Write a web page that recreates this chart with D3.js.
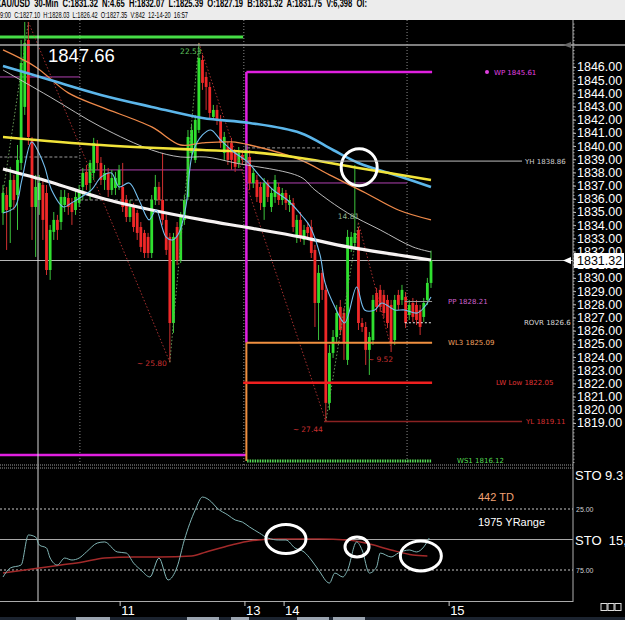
<!DOCTYPE html>
<html><head><meta charset="utf-8">
<script src="https://cdn.jsdelivr.net/npm/d3@7"></script>
<style>html,body{margin:0;padding:0;background:#000;overflow:hidden}</style>
</head><body><svg id="c" width="625" height="620"></svg>
<script>
// ---------------- DATA ----------------
const header1 = "XAU/USD  30-Min  C:1831.32  N:4.65  H:1832.07  L:1825.39  O:1827.19  B:1831.32  A:1831.75  V:6,398  OI:";
const header2 = "9:00  C:1827.10  H:1828.03  L:1826.42  O:1827.35  V:842  12-14-20  16:57";

const open = [1834.93,1836.29,1835.38,1837.43,1836.29,1838.72,1842.97,1848.05,1840.46,1835.38,
1835.91,1837.05,1836.44,1830.60,1833.49,1834.40,1834.24,1835.53,1836.06,1835.69,
1835.15,1835.69,1836.90,1838.04,1837.20,1837.96,1840.08,1838.72,1837.43,1837.96,
1836.67,1836.82,1837.05,1836.90,1835.91,1834.62,1835.38,1834.93,1833.86,1833.41,
1833.11,1831.89,1835.91,1836.90,1835.91,1834.40,1833.11,1826.58,1833.86,1831.36,
1834.40,1836.14,1839.48,1838.95,1841.22,1846.53,1845.24,1844.48,1842.21,1842.74,
1841.98,1839.48,1839.93,1840.24,1839.48,1838.72,1839.33,1838.95,1839.17,1837.20,
1837.43,1836.90,1835.38,1837.20,1835.38,1836.14,1836.90,1835.91,1836.44,1835.53,
1835.69,1833.11,1834.40,1832.88,1833.86,1833.86,1832.12,1828.10,1830.38,1829.09,
1820.52,1824.31,1825.52,1827.80,1827.34,1823.78,1832.35,1832.65,1833.64,1826.58,
1826.28,1824.54,1825.29,1828.86,1829.09,1828.71,1828.33,1827.95,1825.29,1828.71,
1828.33,1828.56,1827.19,1828.10,1827.95,1827.57,1827.04,1828.33,1829.62];
const high = [1837.05,1836.90,1838.42,1837.81,1840.08,1848.05,1849.41,1849.41,1840.69,1837.81,
1837.81,1837.43,1837.05,1834.02,1835.00,1834.78,1836.67,1836.67,1836.44,1836.06,
1836.67,1837.05,1838.34,1838.57,1838.95,1840.62,1840.46,1839.17,1838.57,1838.34,
1838.19,1838.04,1838.57,1838.72,1836.29,1835.91,1835.69,1835.15,1834.24,1833.64,
1833.41,1836.29,1837.81,1837.28,1839.48,1834.78,1833.41,1833.41,1834.24,1835.00,
1836.29,1841.22,1841.60,1842.36,1847.82,1846.91,1845.62,1844.86,1843.12,1843.12,
1842.36,1841.07,1840.31,1840.62,1839.70,1839.93,1839.70,1840.08,1839.70,1838.34,
1837.81,1837.28,1837.58,1837.43,1836.82,1837.81,1837.20,1836.82,1836.67,1836.29,
1836.06,1834.78,1835.00,1834.02,1834.24,1834.40,1832.50,1830.98,1830.60,1829.47,
1824.92,1826.05,1827.95,1828.33,1827.72,1833.64,1833.49,1838.57,1833.86,1826.96,
1826.66,1825.90,1828.71,1829.24,1829.47,1829.09,1828.71,1828.33,1828.71,1829.09,
1829.47,1828.93,1828.33,1828.48,1828.33,1827.95,1828.48,1830.00,1832.07];
const low = [1834.02,1832.12,1832.65,1835.15,1833.64,1838.19,1842.36,1840.08,1832.88,1831.59,
1834.78,1832.88,1830.22,1829.85,1832.88,1832.88,1833.64,1835.00,1834.78,1834.02,
1834.78,1835.38,1835.91,1836.67,1835.91,1837.43,1838.19,1837.05,1836.67,1836.14,
1836.29,1836.29,1836.67,1835.00,1834.24,1834.24,1833.49,1832.88,1831.97,1831.51,
1831.51,1831.51,1835.53,1835.53,1834.02,1831.74,1823.61,1825.83,1830.98,1831.13,
1834.02,1835.91,1839.10,1838.72,1840.99,1844.26,1842.74,1842.13,1841.98,1841.60,
1839.86,1838.95,1838.57,1838.19,1838.04,1838.34,1838.57,1838.57,1836.67,1836.82,
1835.76,1835.15,1834.40,1835.76,1835.00,1835.69,1835.53,1835.53,1835.15,1835.00,
1833.49,1832.65,1832.73,1832.50,1832.88,1831.51,1826.28,1825.29,1828.33,1819.11,
1819.99,1823.93,1825.14,1825.67,1823.78,1823.40,1831.97,1832.27,1826.05,1825.90,
1823.40,1822.64,1824.92,1827.42,1827.42,1826.96,1826.20,1824.38,1824.92,1827.57,
1827.95,1826.20,1826.81,1826.66,1826.43,1825.67,1826.66,1827.95,1829.24];
const close = [1836.44,1835.15,1837.43,1835.91,1838.95,1846.30,1847.82,1840.69,1835.38,1836.90,
1837.20,1834.40,1830.60,1833.64,1834.40,1833.64,1836.14,1836.14,1835.38,1835.00,
1836.14,1836.67,1837.96,1837.05,1838.72,1840.24,1838.72,1837.43,1837.96,1836.67,
1837.58,1837.58,1838.19,1835.38,1834.62,1835.38,1833.86,1833.41,1832.35,1831.89,
1831.89,1835.91,1836.90,1835.91,1834.40,1832.12,1826.58,1833.11,1831.36,1834.62,
1835.91,1840.69,1841.22,1841.98,1846.68,1844.79,1844.48,1842.51,1842.74,1841.98,
1840.24,1840.69,1838.95,1838.95,1838.42,1839.48,1838.95,1839.70,1837.20,1837.96,
1836.14,1835.69,1837.20,1836.14,1836.44,1837.43,1835.91,1836.44,1835.69,1835.91,
1833.86,1834.40,1833.11,1833.64,1833.41,1831.89,1828.10,1830.38,1829.09,1820.52,
1824.31,1825.52,1827.34,1826.05,1825.07,1833.11,1833.11,1833.41,1826.58,1826.28,
1824.54,1825.52,1828.33,1827.80,1827.80,1827.34,1826.58,1825.07,1828.33,1827.95,
1829.09,1826.58,1827.95,1827.04,1826.81,1826.28,1828.10,1829.62,1831.32];

// moving averages: [candle index, price]
const maBlue   = [[0,1846.08],[13,1845.01],[27,1843.88],[41,1842.97],[55,1842.13],[68,1841.75],[82,1840.99],[91,1839.70],[98,1838.72],[109,1837.73],[118,1836.90]];
const maYellow = [[0,1840.69],[27,1840.08],[55,1839.70],[68,1839.55],[82,1839.10],[98,1838.34],[118,1837.43]];
const maWhite  = [[0,1838.26],[13,1837.28],[27,1836.06],[41,1835.15],[55,1834.40],[68,1833.79],[82,1833.11],[95,1832.35],[109,1831.74],[118,1831.36]];
const maOrange = [[0,1847.29],[9,1846.00],[18,1844.03],[27,1842.97],[41,1841.45],[49,1840.08],[55,1840.24],[63,1840.31],[68,1840.08],[82,1838.95],[90,1837.81],[100,1836.44],[109,1835.15],[118,1834.40]];
const maGray   = [[0,1845.77],[13,1843.72],[27,1841.45],[41,1839.70],[49,1839.17],[56,1839.17],[64,1838.72],[82,1837.66],[86,1836.67],[95,1834.93],[104,1833.64],[113,1832.35],[118,1831.97]];
const maFast   = [[0,1834.93],[3.3,1835.38],[5.2,1837.43],[7.9,1840.31],[9.9,1839.48],[11.5,1838.42],[13.4,1836.67],[16.7,1835.38],[18.9,1835.69],[21.6,1836.14],[24.4,1836.67],[27.1,1837.66],[29.9,1837.96],[32,1836.90],[34.8,1837.20],[37.5,1835.91],[40.3,1834.40],[42.2,1835.15],[44.9,1833.11],[46.8,1832.88],[48.5,1833.41],[50.4,1835.38],[52.3,1839.48],[55,1840.84],[57.3,1841.22],[60,1840.46],[63.6,1839.55],[67.4,1838.80],[71,1837.66],[74.5,1836.67],[78.4,1835.91],[82.7,1834.62],[84.7,1833.86],[87.4,1831.74],[88.8,1829.62],[91.5,1827.80],[94.2,1826.58],[97.5,1829.31],[99.7,1827.57],[102.5,1827.57],[104.4,1828.10],[108,1827.57],[110.7,1827.57],[114.2,1827.34],[116.2,1827.80],[118,1828.56]];

// zigzag swing points and their labels
const zigzag = [[0,1836.44],[7,1849.41],[46,1823.61],[54,1847.82],[89,1819.11],[98,1834.19],[107,1824.67]];
const zigzagLabels = ["22.53","~ 25.80","~ 27.44","14.81","~ 9.52"];

// support / resistance levels
const levelNames  = ["WP","YH","PP","ROVR","WL3","LW Low","YL","WS1"];
const levelPrices = [1845.61,1838.86,1828.21,1826.6,1825.09,1822.05,1819.11,1816.12];
// other horizontal reference prices
const refPrices = [1848.28,1847.66,1845.24,1839.17,1838.19,1835.91,1839.86,1837.20,1831.32,1816.57];
const lastHigh = 1847.66, lastPrice = 1831.32;

const priceTicks = d3.range(1819, 1847);

// stochastic: [candle index, value]
const stoFast = [[0,80.7],[2,73.4],[5,70.9],[7,46.3],[9,48.0],[10,54.5],[12,57.0],[13,65.2],[15,70.9],[17,65.2],[19,66.8],[21,65.2],[23,60.2],[26,52.9],[28,52.0],[31.5,60.2],[34,61.1],[36,69.3],[38,75.0],[40.5,80.7],[43,65.2],[45.5,83.2],[48,72.5],[50,50.4],[53,25.8],[55,15.2],[57.5,19.3],[59,24.2],[62,29.9],[64,34.0],[66,35.7],[68,39.8],[70.7,44.7],[73,48.8],[76,50.4],[78,50.4],[80.5,57.0],[83,60.2],[85,66.8],[87,75.0],[90,85.7],[91.5,77.5],[93.7,80.7],[95,75.0],[97.5,52.0],[99,58.6],[101,77.5],[103,72.5],[104,61.1],[107,64.3],[109,61.1],[112,58.6],[114,60.2],[116,56.1],[117.5,48.8]];
const stoSlow = [[0,77.5],[10,73.4],[16,70.9],[22,68.4],[28,65.2],[36,64.3],[43,64.3],[52,63.5],[56,60.2],[63,54.5],[68,51.2],[76,49.6],[87,49.6],[95,50.4],[100,52.9],[107,58.6],[113,62.7],[117,63.5]];
const stoLevels = [25, 50, 75];

const dayLabels = ["11","13","14","15"];
const dayPos = [32.3, 66.7, 77.5, 123];
const sessionLines = [21.2, 66.4, 111.4];
const cursorPos = 9.65;

// ---------------- DRAW ----------------
const FONT = "'Liberation Sans', Arial, sans-serif";
const MONO = "'DejaVu Sans', 'Liberation Sans', sans-serif";
const N = close.length;
const svg = d3.select("#c");
svg.append("rect").attr("width",625).attr("height",620).attr("fill","#000");

const x = d3.scaleLinear().domain([0, N-1]).range([3, 431]);
const y = d3.scaleLinear().domain([1815.66, 1849.56]).range([467, 20]);
const ys = d3.scaleLinear().domain([0, 100]).range([478.5, 600.5]);

const defs = svg.append("defs");
defs.append("clipPath").attr("id","main").append("rect").attr("x",0).attr("y",20).attr("width",573).attr("height",446);
defs.append("clipPath").attr("id","low").append("rect").attr("x",0).attr("y",471).attr("width",573).attr("height",130);

const gm = svg.append("g").attr("clip-path","url(#main)");

function hline(g, p, x0, x1, color, w, dash){
  g.append("line").attr("x1",x(x0)).attr("x2",x(x1)).attr("y1",y(p)).attr("y2",y(p))
   .attr("stroke",color).attr("stroke-width",w).attr("stroke-dasharray",dash||null);
}
// session vertical dotted lines
sessionLines.forEach(s=>gm.append("line").attr("x1",x(s)).attr("x2",x(s)).attr("y1",20).attr("y2",467)
  .attr("stroke","#8a8a8a").attr("stroke-width",1).attr("stroke-dasharray","1,2"));

// reference lines
const refStyle = [
  {x0:-1, x1:66.2, c:"#46dd46", w:3},
  {x0:-1, x1:200, c:"#a8a8a8", w:1.5, free:true},
  {x0:-1, x1:21.2, c:"#b040b0", w:1},
  {x0:-1, x1:21.2, c:"#9a9a9a", w:1, d:"3,2"},
  {x0:21.2, x1:66.2, c:"#b040b0", w:1},
  {x0:21.2, x1:66.2, c:"#9a9a9a", w:1, d:"3,2"},
  {x0:67.3, x1:87.4, c:"#9a9a9a", w:1, d:"3,2"},
  {x0:67.3, x1:111.4, c:"#b040b0", w:1},
  {x0:-1, x1:200, c:"#b8b8b8", w:1},
  {x0:-1, x1:67.1, c:"#e020e0", w:2.5}
];
refPrices.forEach((p,i)=>{const s=refStyle[i]; hline(s.free?svg:gm,p,s.x0,s.x1,s.c,s.w,s.d);});

// levels
const levelStyle = [
  {x0:67.1, x1:118.3, c:"#e020e0", w:2.5, tc:"#e040e0", lx:494, dot:true},
  {x0:67.3, x1:143.1, c:"#bdbdbd", w:1, tc:"#cfcfcf", lx:525},
  {x0:110.8, x1:118.3, c:"#999", w:1, tc:"#d060d0", lx:448},
  {x0:110.8, x1:118.3, c:"#eee", w:1, d:"2,2", tc:"#d8d8d8", lx:524},
  {x0:67.1, x1:118.3, c:"#f09040", w:2, tc:"#f0a060", lx:448},
  {x0:66.2, x1:118.3, c:"#f02020", w:2.5, tc:"#e03535", lx:496},
  {x0:88.5, x1:143.1, c:"#8a2222", w:1.5, tc:"#d83030", lx:526},
  {x0:67.3, x1:118.3, c:"#55dd55", w:3, d:"1.5,1", tc:"#55dd55", lx:457}
];
const gl = svg.append("g");
levelPrices.forEach((p,i)=>{
  const s = levelStyle[i];
  hline(gl,p,s.x0,s.x1,s.c,s.w,s.d);
  gl.append("text").attr("x",s.lx).attr("y",y(p)+2.5).attr("fill",s.tc)
    .attr("font-family",MONO).attr("font-size",7).text(levelNames[i]+" "+p);
  if(s.dot) gl.append("circle").attr("cx",s.lx-7).attr("cy",y(p)).attr("r",2).attr("fill",s.tc);
});
// vertical pivot-week line
gm.append("line").attr("x1",x(67.1)).attr("x2",x(67.1)).attr("y1",y(levelPrices[0])).attr("y2",y(levelPrices[4]))
  .attr("stroke","#e020e0").attr("stroke-width",2.5);
gm.append("line").attr("x1",x(67.1)).attr("x2",x(67.1)).attr("y1",y(levelPrices[4])).attr("y2",y(levelPrices[7]))
  .attr("stroke","#f09040").attr("stroke-width",2);

// cursor white vertical line
svg.append("line").attr("x1",x(cursorPos)).attr("x2",x(cursorPos)).attr("y1",20).attr("y2",601)
  .attr("stroke","#d8d8d8").attr("stroke-width",1);

// candles
const G="#2fe02f", R="#f02828";
const idx = d3.range(N);
gm.append("g").selectAll("line").data(idx).join("line")
  .attr("x1",i=>x(i)).attr("x2",i=>x(i)).attr("y1",i=>y(high[i])).attr("y2",i=>y(low[i]))
  .attr("stroke",i=>close[i]>=open[i]?"#3cc43c":"#d03030").attr("stroke-width",1);
gm.append("g").selectAll("rect").data(idx).join("rect")
  .attr("x",i=>x(i)-1.4).attr("width",2.8)
  .attr("y",i=>y(Math.max(open[i],close[i])))
  .attr("height",i=>Math.max(1,Math.abs(y(open[i])-y(close[i]))))
  .attr("fill",i=>close[i]>=open[i]?G:R);

// zigzag
for(let k=0;k<zigzag.length-1;k++){
  const a=zigzag[k], b=zigzag[k+1];
  gm.append("line").attr("x1",x(a[0])).attr("y1",y(a[1])).attr("x2",x(b[0])).attr("y2",y(b[1]))
    .attr("stroke", b[1]>a[1]?"#6b9a5a":"#a83030").attr("stroke-width",1).attr("stroke-dasharray","1.5,2");
}
// MAs
const line = d3.line().x(d=>x(d[0])).y(d=>y(d[1])).curve(d3.curveCatmullRom);
[[maGray,"#cfcfcf",0.9],[maOrange,"#ef8a4a",1.3],[maBlue,"#5cb6ea",2.6],[maYellow,"#f2e43a",2.6],[maWhite,"#f6f2f2",3.2],[maFast,"#74bff0",1.1]]
 .forEach(([d,c,w])=>gm.append("path").attr("d",line(d)).attr("fill","none").attr("stroke",c).attr("stroke-width",w));

// zigzag labels
const zlStyle = [
  {k:3, dx:-8, dy:11, anchor:"middle", c:"#5fc45f"},
  {k:2, dx:-3, dy:4, anchor:"end", c:"#c83030"},
  {k:4, dx:-3, dy:10, anchor:"end", c:"#c83030"},
  {k:5, dx:-10, dy:-4, anchor:"middle", c:"#8fb08f"},
  {k:6, dx:2, dy:14, anchor:"end", c:"#c83030"}
];
zigzagLabels.forEach((t,i)=>{
  const s=zlStyle[i], p=zigzag[s.k];
  gm.append("text").attr("x",x(p[0])+s.dx).attr("y",y(p[1])+s.dy).attr("text-anchor",s.anchor)
    .attr("fill",s.c).attr("font-family",MONO).attr("font-size",7.5).text(t);
});

// big high label
svg.append("text").attr("x",48).attr("y",y(lastHigh)+17).attr("fill","#fff").attr("font-family",FONT)
  .attr("font-size",18.5).text(lastHigh.toFixed(2));

// annotation circle main
gm.append("ellipse").attr("cx",x(98.2)).attr("cy",y(1838.4)).attr("rx",18).attr("ry",18.5)
  .attr("fill","none").attr("stroke","#fff").attr("stroke-width",3);

// main panel bottom separator
[465,468].forEach(v=>svg.append("line").attr("x1",0).attr("x2",573).attr("y1",v).attr("y2",v)
  .attr("stroke","#9a9a9a").attr("stroke-dasharray","1,1"));

// right axis
const ax = svg.append("g").attr("transform","translate(573,0)")
  .call(d3.axisRight(y).tickValues(priceTicks).tickSize(3).tickPadding(1).tickFormat(d3.format(".2f")));
ax.select(".domain").remove();
ax.selectAll("line").attr("stroke","#bbb");
ax.selectAll("text").attr("fill","#fff").attr("font-family",FONT).attr("font-size",12.5);
svg.append("g").selectAll("line").data(d3.range(1816, 1849.5, 0.25)).join("line")
  .attr("x1",573).attr("x2",574.5).attr("y1",d=>y(d)).attr("y2",d=>y(d)).attr("stroke","#999");
svg.append("line").attr("x1",573).attr("x2",573).attr("y1",20).attr("y2",602).attr("stroke","#b0b0b0");

// current price tag
svg.append("rect").attr("x",574).attr("y",y(lastPrice)-7.5).attr("width",50).attr("height",15).attr("fill","#fff");
svg.append("text").attr("x",577).attr("y",y(lastPrice)+4.5).attr("fill","#000").attr("font-family",FONT).attr("font-size",12.5).text(lastPrice.toFixed(2));
svg.append("path").attr("d",`M563,${y(lastPrice)} l8,-3.5 l0,7 z`).attr("fill","#fff");
svg.append("path").attr("d",`M563,${y(lastHigh)} l8,-3 l0,6 z`).attr("fill","#666");

// ---------------- lower panel ----------------
const glow = svg.append("g").attr("clip-path","url(#low)");
stoLevels.forEach(v=>{
  glow.append("line").attr("x1",0).attr("x2",573).attr("y1",ys(v)).attr("y2",ys(v))
    .attr("stroke", v===50?"#a8a8a8":"#c8c8c8").attr("stroke-width",1).attr("stroke-dasharray", v===50?null:"2,2");
});
[25,75].forEach(v=>svg.append("text").attr("x",576).attr("y",ys(v)+2.5).attr("fill","#cfcfcf")
  .attr("font-family",FONT).attr("font-size",7).text(v.toFixed(2)));
const sl = d3.line().x(d=>x(d[0])).y(d=>ys(d[1])).curve(d3.curveMonotoneX);
glow.append("path").attr("d",sl(stoSlow)).attr("fill","none").attr("stroke","#a32a2a").attr("stroke-width",1.5);
glow.append("path").attr("d",sl(stoFast)).attr("fill","none").attr("stroke","#80b4b4").attr("stroke-width",1);
[[78,49.6,20,14.5],[97.6,56.1,12,10],[115.2,63.5,20.5,15]].forEach(([i,v,rx,ry])=>
  glow.append("ellipse").attr("cx",x(i)).attr("cy",ys(v)).attr("rx",rx).attr("ry",ry)
   .attr("fill","none").attr("stroke","#fff").attr("stroke-width",3));

svg.append("text").attr("x",478).attr("y",501).attr("fill","#f2a374").attr("font-family",FONT).attr("font-size",11).text("442 TD");
svg.append("text").attr("x",478).attr("y",526).attr("fill","#fff").attr("font-family",FONT).attr("font-size",11).text("1975 YRange");
svg.append("text").attr("x",575).attr("y",ys(50)+5).attr("fill","#fff").attr("font-family",FONT).attr("font-size",13).attr("xml:space","preserve").text("STO  15,");
svg.append("text").attr("x",575).attr("y",480).attr("fill","#fff").attr("font-family",FONT).attr("font-size",13).text("STO  9.3");

// bottom axis
svg.append("line").attr("x1",0).attr("x2",573).attr("y1",601.5).attr("y2",601.5).attr("stroke","#aaa");
dayLabels.forEach((t,i)=>{
  svg.append("line").attr("x1",x(dayPos[i])).attr("x2",x(dayPos[i])).attr("y1",601).attr("y2",606).attr("stroke","#ccc");
  svg.append("text").attr("x",x(dayPos[i])+1).attr("y",615).attr("fill","#fff").attr("font-family",FONT).attr("font-size",13).text(t);
});
// small window buttons
[601,608,615].forEach(v=>svg.append("rect").attr("x",v).attr("y",603.5).attr("width",6).attr("height",7)
  .attr("fill","none").attr("stroke","#ddd").attr("stroke-width",1));
// bottom toolbar strip
svg.append("rect").attr("x",0).attr("y",617).attr("width",625).attr("height",3).attr("fill","#1c2430");
[[76,110],[187,219],[231,249],[297,329],[333,365]].forEach(([a,b])=>
  svg.append("rect").attr("x",a).attr("y",617).attr("width",b-a).attr("height",3).attr("fill","#9aa4b0"));

// ---------------- header ----------------
svg.append("rect").attr("x",0).attr("y",0).attr("width",625).attr("height",20).attr("fill","#ececec");
svg.append("text").attr("x",-4).attr("y",7).attr("fill","#000").attr("font-family",FONT).attr("font-weight","bold")
  .attr("font-size",10.5).attr("textLength",371).attr("lengthAdjust","spacingAndGlyphs").attr("xml:space","preserve").text(header1);
svg.append("text").attr("x",0).attr("y",17.5).attr("fill","#000").attr("font-family",FONT)
  .attr("font-size",9).attr("textLength",188).attr("lengthAdjust","spacingAndGlyphs").attr("xml:space","preserve").text(header2);
</script></body></html>
